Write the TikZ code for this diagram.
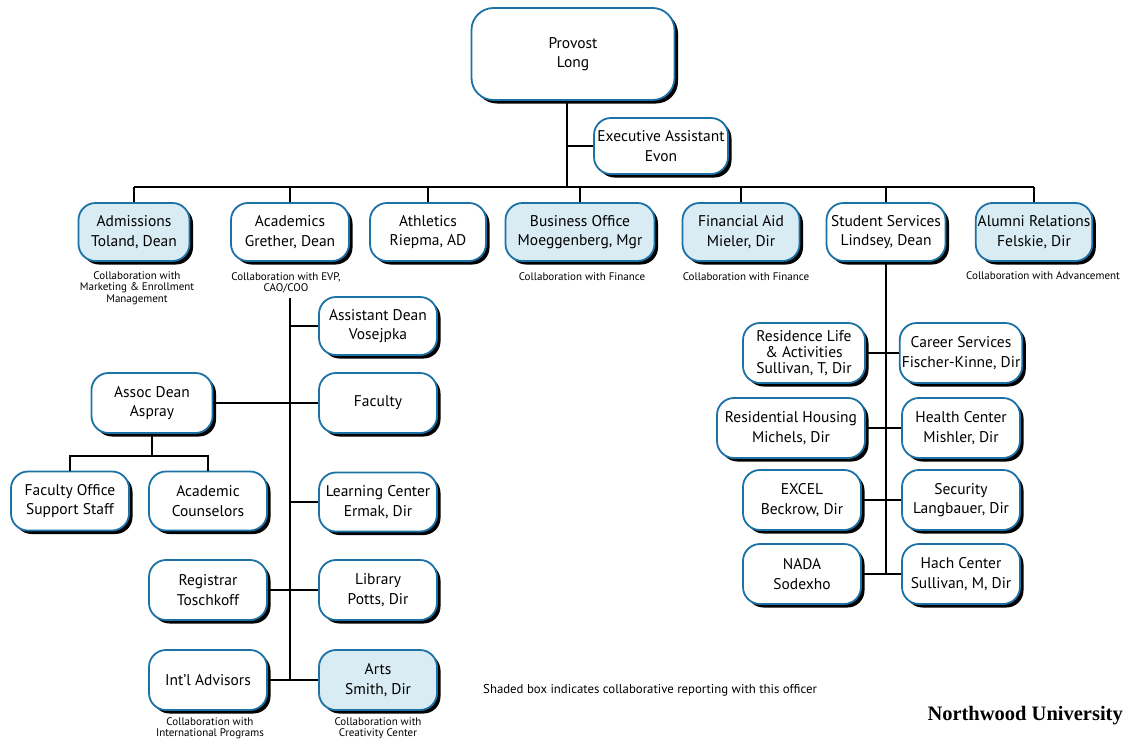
\documentclass[tikz,border=0pt]{standalone}
\usepackage{fontspec}
\setmainfont{PT Sans}
\newfontfamily\nuserif{Liberation Serif}
\usetikzlibrary{shadows}
\definecolor{unitblue}{HTML}{1C72A6}
\definecolor{collabfill}{HTML}{D9EBF3}
\tikzset{
  unit/.style={draw=unitblue, line width=1.8pt, fill=white, rounded corners=17pt,
    minimum width=118pt, minimum height=58pt, align=center, inner sep=2pt,
    font=\fontsize{15.5}{19.5}\selectfont,
    drop shadow={shadow xshift=3.5pt, shadow yshift=-3.5pt, opacity=1, fill=black}},
  collab/.style={unit, fill=collabfill},
  note/.style={align=center, inner sep=0pt, font=\fontsize{11}{11.5}\selectfont},
  link/.style={draw=black, line width=1.4pt}
}
\begin{document}
\begin{tikzpicture}[x=1pt, y=-1pt]
\path[use as bounding box, fill=white] (0,0) rectangle (1123,742);

% top
\node[unit, minimum width=203pt, minimum height=92pt, rounded corners=22pt] (provost) at (573,54) {Provost\\Long};
\node[unit, minimum width=134pt, minimum height=56pt] (execasst) at (661,146) {Executive Assistant\\Evon};

% first row
\node[collab, minimum width=111pt] (admissions) at (134,232) {Admissions\\Toland, Dean};
\node[unit] (academics) at (290,232) {Academics\\Grether, Dean};
\node[unit, minimum width=116pt] (athletics) at (428,232) {Athletics\\Riepma, AD};
\node[collab, minimum width=149pt] (business) at (580,232) {Business Office\\Moeggenberg, Mgr};
\node[collab, minimum width=117pt] (finaid) at (741,232) {Financial Aid\\Mieler, Dir};
\node[unit, minimum width=119pt] (studserv) at (886,232) {Student Services\\Lindsey, Dean};
\node[collab, minimum width=113pt] (alumni) at (1034,232) {Alumni Relations\\Felskie, Dir};

\node[note] (admnote) at (137,288) {Collaboration with\\Marketing \& Enrollment\\Management};
\node[note] (acadnote) at (286,283) {Collaboration with EVP,\\CAO/COO};
\node[note] (busnote) at (582,277) {Collaboration with Finance};
\node[note] (finnote) at (746,277) {Collaboration with Finance};
\node[note] (alumnote) at (1043,276) {Collaboration with Advancement};

% academics
\node[unit] (asstdean) at (378,326) {Assistant Dean\\Vosejpka};
\node[unit, minimum height=60pt] (faculty) at (378,403) {Faculty};
\node[unit, minimum width=121pt, minimum height=60pt] (assocdean) at (152,403) {Assoc Dean\\Aspray};
\node[unit, minimum height=59pt] (facoffice) at (70,501) {Faculty Office\\Support Staff};
\node[unit, minimum height=59pt] (acadcouns) at (208,501) {Academic\\Counselors};
\node[unit, minimum height=59pt] (learning) at (378,502) {Learning Center\\Ermak, Dir};
\node[unit, minimum height=60pt] (registrar) at (208,590) {Registrar\\Toschkoff};
\node[unit, minimum height=60pt] (library) at (378,590) {Library\\Potts, Dir};
\node[unit, minimum height=60pt] (intl) at (208,680) {Int'l Advisors};
\node[collab, minimum height=60pt] (arts) at (378,680) {Arts\\Smith, Dir};
\node[note] (intlnote) at (210,728) {Collaboration with\\International Programs};
\node[note] (artsnote) at (378,728) {Collaboration with\\Creativity Center};

% student services
\node[unit, minimum width=122pt, minimum height=60pt] (reslife) at (804,353) {Residence Life\\[-3.5pt]\& Activities\\[-3.5pt]Sullivan, T, Dir};
\node[unit, minimum height=60pt] (career) at (961,353) {Career Services\\Fischer-Kinne, Dir};
\node[unit, minimum width=148pt, minimum height=60pt] (reshousing) at (791,428) {Residential Housing\\Michels, Dir};
\node[unit, minimum height=60pt] (health) at (961,428) {Health Center\\Mishler, Dir};
\node[unit, minimum height=60pt] (excel) at (802,500) {EXCEL\\Beckrow, Dir};
\node[unit, minimum height=60pt] (security) at (961,500) {Security\\Langbauer, Dir};
\node[unit, minimum height=60pt] (nada) at (802,574) {NADA\\Sodexho};
\node[unit, minimum height=60pt] (hach) at (961,574) {Hach Center\\Sullivan, M, Dir};

% footer
\node[anchor=west, inner sep=0pt, font=\fontsize{12.8}{14}\selectfont] (legend) at (483,690) {Shaded box indicates collaborative reporting with this officer};
\node[anchor=east, inner sep=0pt, font=\nuserif\bfseries\fontsize{20.5}{22}\selectfont] (northwood) at (1123,716) {Northwood University};

% connectors
\coordinate (bus) at (567,187);
\draw[link] (provost.south -| bus) -- (bus);
\draw[link] (execasst.west) -- (execasst.west -| bus);
\draw[link] (admissions.north |- bus) -- (alumni.north |- bus);
\foreach \n in {admissions,academics,athletics,business,finaid,studserv,alumni}
  \draw[link] (\n.north) -- (\n.north |- bus);

\draw[link] (academics.south |- acadnote.south) ++(0,4) -- (academics.south |- arts.west);
\foreach \n in {asstdean,learning}
  \draw[link] (\n.west) -- (\n.west -| academics.south);
\draw[link] (assocdean.east) -- (faculty.west);
\draw[link] (registrar.east) -- (library.west);
\draw[link] (intl.east) -- (arts.west);
\draw[link] (assocdean.south) -- ++(0,22) coordinate (adbus);
\draw[link] (facoffice.north) |- (adbus) -| (acadcouns.north);

\draw[link] (studserv.south) -- (studserv.south |- hach.west);
\draw[link] (reslife.east) -- (career.west);
\draw[link] (reshousing.east) -- (health.west);
\draw[link] (excel.east) -- (security.west);
\draw[link] (nada.east) -- (hach.west);
\end{tikzpicture}
\end{document}
